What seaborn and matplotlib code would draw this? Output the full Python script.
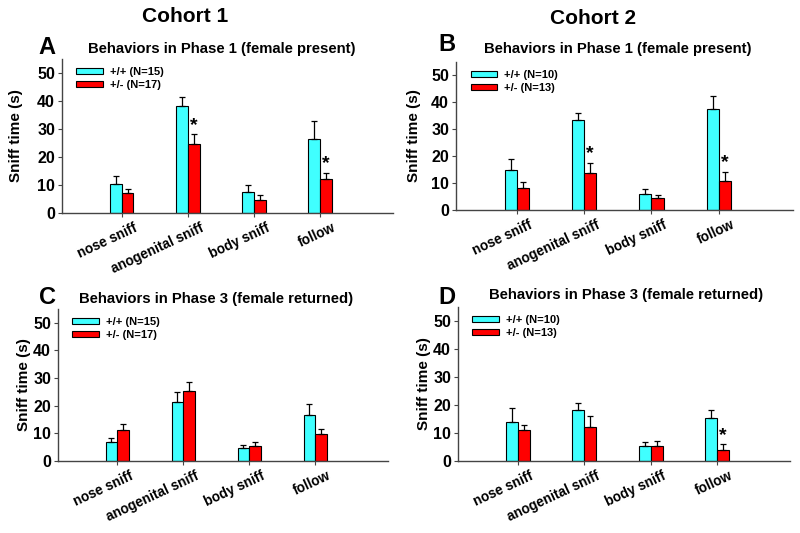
import numpy as np
import pandas as pd
import matplotlib
matplotlib.use("Agg")
import matplotlib.pyplot as plt
import matplotlib.transforms as mtransforms
import seaborn as sns

# ==========================================================
# Data (seconds; sem = upper error bar length)
# ==========================================================

behaviors = ["nose sniff", "anogenital sniff", "body sniff", "follow"]

a_wt = [10.3, 38.2, 7.4, 26.4]
a_wt_sem = [2.9, 3.1, 2.7, 6.3]
a_het = [7.2, 24.5, 4.7, 12.3]
a_het_sem = [1.2, 3.7, 1.9, 2.0]

b_wt = [15.0, 33.6, 6.0, 37.6]
b_wt_sem = [3.8, 2.6, 1.9, 4.6]
b_het = [8.3, 13.9, 4.4, 10.7]
b_het_sem = [2.0, 3.7, 1.0, 3.6]

c_wt = [7.0, 21.2, 4.7, 16.7]
c_wt_sem = [1.4, 3.6, 1.2, 3.8]
c_het = [11.2, 25.5, 5.4, 9.6]
c_het_sem = [2.3, 3.2, 1.6, 1.8]

d_wt = [13.8, 18.1, 5.2, 15.2]
d_wt_sem = [5.0, 2.6, 1.5, 3.0]
d_het = [11.1, 12.3, 5.5, 4.0]
d_het_sem = [1.9, 3.8, 1.5, 2.0]

cohort1_labels = ["+/+ (N=15)", "+/- (N=17)"]
cohort2_labels = ["+/+ (N=10)", "+/- (N=13)"]

# indices of behaviors marked with * (het vs wt)
a_sig = [1, 3]
b_sig = [1, 3]
c_sig = []
d_sig = [3]

panels = [
    ("A", "Behaviors in Phase 1 (female present)", a_wt, a_wt_sem, a_het, a_het_sem, cohort1_labels, a_sig),
    ("B", "Behaviors in Phase 1 (female present)", b_wt, b_wt_sem, b_het, b_het_sem, cohort2_labels, b_sig),
    ("C", "Behaviors in Phase 3 (female returned)", c_wt, c_wt_sem, c_het, c_het_sem, cohort1_labels, c_sig),
    ("D", "Behaviors in Phase 3 (female returned)", d_wt, d_wt_sem, d_het, d_het_sem, cohort2_labels, d_sig),
]

# ==========================================================
# Layout (pixels of an 800x533 canvas)
# ==========================================================

W, H = 800, 533
# left, right, bottom(y of axis), top(y of axis end), ylabel x, letter xy, title xy
layout = [
    (62, 393, 213, 59, 15, (47, 48), (222, 49)),
    (456, 793, 210, 62, 413, (447, 45), (618, 49)),
    (58, 388, 461, 309, 23, (47, 298), (216, 299)),
    (458, 790, 461, 307, 423, (447, 297), (626, 295)),
]

cyan = "#40ffff"
red = "#ff0000"

sns.set_style("ticks")
plt.rcParams["font.family"] = ["Liberation Sans", "DejaVu Sans"]
plt.rcParams["font.weight"] = "bold"
plt.rcParams["text.color"] = "black"
plt.rcParams["axes.labelcolor"] = "black"
plt.rcParams["xtick.labelcolor"] = "black"
plt.rcParams["ytick.labelcolor"] = "black"

fig = plt.figure(figsize=(8, 5.33), dpi=100)

fig.text(185 / W, 1 - 17 / H, "Cohort 1", ha="center", va="center", fontsize=15, fontweight="bold")
fig.text(593 / W, 1 - 19 / H, "Cohort 2", ha="center", va="center", fontsize=15, fontweight="bold")

for (letter, title, wt, wt_sem, het, het_sem, labels, sig), lay in zip(panels, layout):
    left, right, bot, top, ylx, lxy, txy = lay
    ax = fig.add_axes([left / W, 1 - bot / H, (right - left) / W, (bot - top) / H])

    df = pd.DataFrame({
        "behavior": behaviors * 2,
        "genotype": [labels[0]] * 4 + [labels[1]] * 4,
        "time": wt + het,
    })
    sns.barplot(data=df, x="behavior", y="time", hue="genotype",
                palette=[cyan, red], saturation=1, width=0.36,
                errorbar=None, edgecolor="black", linewidth=0.8, ax=ax)

    for cont, sems in zip(ax.containers, [wt_sem, het_sem]):
        xs = [b.get_x() + b.get_width() / 2 for b in cont]
        hs = [b.get_height() for b in cont]
        ax.errorbar(xs, hs, yerr=[np.zeros(len(sems)), sems], fmt="none",
                    ecolor="black", elinewidth=0.9, capsize=2.5, capthick=0.9, zorder=1)

    het_bars = ax.containers[1]
    for i in sig:
        b = het_bars[i]
        ax.text(b.get_x() + b.get_width() / 2, b.get_height() + het_sem[i] + 3.2, "*",
                ha="center", va="center", fontsize=14, fontweight="bold")

    ax.set_xlim(-0.9, 4.1)
    ax.set_ylim(0, 55)
    ax.set_yticks(range(0, 60, 10))
    ax.set_xlabel("")
    ax.set_ylabel("Sniff time (s)", fontsize=11, fontweight="bold")
    ax.yaxis.set_label_coords((ylx + 8 - left) / (right - left), 0.5)

    for side in ["top", "right"]:
        ax.spines[side].set_visible(False)
    for side in ["left", "bottom"]:
        ax.spines[side].set_color("#444444")
        ax.spines[side].set_linewidth(1.0)
    ax.tick_params(axis="both", length=3, width=0.8, color="#444444")
    ax.tick_params(axis="y", labelsize=11.5, pad=2)
    ax.tick_params(axis="x", labelsize=9.8, pad=1)

    offset = mtransforms.ScaledTranslation(0.12, -0.02, fig.dpi_scale_trans)
    for lab in ax.get_xticklabels():
        lab.set_rotation(25)
        lab.set_ha("right")
        lab.set_va("top")
        lab.set_rotation_mode("anchor")
        lab.set_fontweight("bold")
        lab.set_transform(lab.get_transform() + offset)
    for lab in ax.get_yticklabels():
        lab.set_fontweight("bold")

    leg = ax.legend(loc="upper left", bbox_to_anchor=(0.02, 1.0), frameon=False,
                    fontsize=8, handlelength=2.4, handleheight=0.45,
                    handletextpad=0.6, labelspacing=0.3, borderaxespad=0.3)
    for t in leg.get_texts():
        t.set_fontweight("bold")

    fig.text(lxy[0] / W, 1 - lxy[1] / H, letter, ha="center", va="center",
             fontsize=17, fontweight="bold")
    fig.text(txy[0] / W, 1 - txy[1] / H, title, ha="center", va="center",
             fontsize=10.7, fontweight="bold")

fig.savefig("out.png", dpi=100)
